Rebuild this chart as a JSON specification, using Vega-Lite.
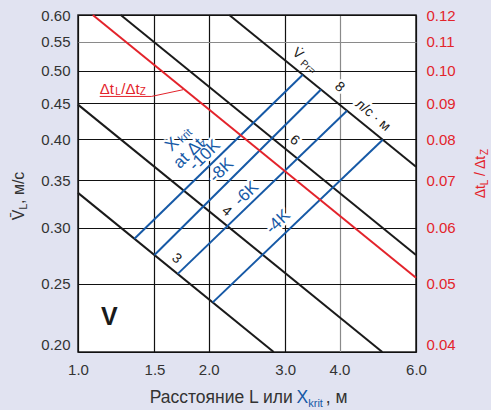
{
  "$schema": "https://vega.github.io/schema/vega-lite/v6.json",
  "width": 338,
  "height": 337,
  "autosize": {"type": "none"},
  "padding": {"left": 78, "top": 15, "right": 75, "bottom": 58},
  "background": "#e1e3f1",
  "config": {
    "view": {"fill": "white", "stroke": "#222222", "strokeWidth": 1.5},
    "text": {"font": "Liberation Sans"},
    "axis": {"labelFont": "Liberation Sans"}
  },
  "datasets": {
    "blackLines": [
      {"V": 3, "L": 1, "v": 0.336}, {"V": 3, "L": 2.822, "v": 0.2},
      {"V": 4, "L": 1, "v": 0.448}, {"V": 4, "L": 5.018, "v": 0.2},
      {"V": 6, "L": 1.2544, "v": 0.6}, {"V": 6, "L": 6, "v": 0.2743},
      {"V": 8, "L": 2.23, "v": 0.6}, {"V": 8, "L": 6, "v": 0.3658}
    ],
    "blueLines": [
      {"K": "-10K", "L": 1.3486, "v": 0.2893}, {"K": "-10K", "L": 3.2918, "v": 0.4939},
      {"K": "-8K", "L": 1.4995, "v": 0.2744}, {"K": "-8K", "L": 3.627, "v": 0.4705},
      {"K": "-6K", "L": 1.6966, "v": 0.258}, {"K": "-6K", "L": 4.163, "v": 0.4391},
      {"K": "-4K", "L": 2.0426, "v": 0.2351}, {"K": "-4K", "L": 5.031, "v": 0.3995}
    ],
    "redLine": [{"L": 1.0816, "r": 0.12}, {"L": 6, "r": 0.05095}],
    "leader": [{"L": 1.122, "v": 0.4601}, {"L": 1.476, "v": 0.4601}, {"L": 1.745, "v": 0.4703}],
    "blueLabels": [
      {"t": "X", "L": 1.646, "v": 0.3935},
      {"t": "at Δt", "L": 1.7986, "v": 0.3821},
      {"t": "-10K", "L": 1.958, "v": 0.3797},
      {"t": "-8K", "L": 2.139, "v": 0.3616},
      {"t": "-6K", "L": 2.442, "v": 0.3351},
      {"t": "-4K", "L": 2.888, "v": 0.3055}
    ],
    "blueSubs": [
      {"t": "krit", "L": 1.7675, "v": 0.4043},
      {"t": "z", "L": 1.9474, "v": 0.3948}
    ],
    "blackLabels": [
      {"t": "3", "L": 1.685, "v": 0.2712},
      {"t": "4", "L": 2.1966, "v": 0.3163},
      {"t": "6", "L": 3.15, "v": 0.3987},
      {"t": "8", "L": 3.999, "v": 0.4742},
      {"t": "V̇", "L": 3.2056, "v": 0.5288},
      {"t": "л/с · м", "L": 4.771, "v": 0.4325}
    ],
    "blackSmall": [{"t": "Pr=", "L": 3.38, "v": 0.5062}],
    "redMain": [
      {"t": "Δt", "L": 1.122, "v": 0.4641},
      {"t": "/Δt", "L": 1.2574, "v": 0.4641}
    ],
    "redSub": [
      {"t": "L", "L": 1.218, "v": 0.4616},
      {"t": "Z", "L": 1.387, "v": 0.4616}
    ],
    "bigV": [{"t": "V", "L": 1.1812, "v": 0.2242}],
    "bottomBlack": [
      {"t": "Расстояние L или", "L": 1.4626, "v": 0.1691},
      {"t": ", м", "L": 3.72, "v": 0.1691}
    ],
    "bottomBlue": [{"t": "X", "L": 3.1837, "v": 0.1691}],
    "bottomBlueSub": [{"t": "krit", "L": 3.389, "v": 0.1671}],
    "leftTitle": [
      {"t": "V̄", "L": 0.7498, "v": 0.3072},
      {"t": ", м/с", "L": 0.7498, "v": 0.324}
    ],
    "leftTitleSub": [{"t": "L", "L": 0.762, "v": 0.3181}],
    "rightTitle": [
      {"t": "Δt", "L": 8.64, "v": 0.3301},
      {"t": "/ Δt", "L": 8.64, "v": 0.3549}
    ],
    "rightTitleSub": [
      {"t": "L", "L": 8.778, "v": 0.3445},
      {"t": "Z", "L": 8.778, "v": 0.38}
    ]
  },
  "layer": [
    {
      "encoding": {
        "x": {
          "field": "L", "type": "quantitative",
          "scale": {"type": "log", "domain": [1, 6], "nice": false},
          "axis": {
            "values": [1, 1.5, 2, 3, 4, 6], "format": ".1f", "title": null,
            "domain": false, "ticks": false, "labelPadding": 10,
            "labelFontSize": 15, "labelColor": "#333333", "labelFlush": false,
            "grid": true, "gridWidth": 1.2,
            "gridColor": {"condition": {"test": "datum.value == 4", "value": "#8a8a8a"}, "value": "#111111"}
          }
        },
        "y": {
          "field": "v", "type": "quantitative",
          "scale": {"type": "log", "domain": [0.2, 0.6], "nice": false},
          "axis": {
            "values": [0.2, 0.25, 0.3, 0.35, 0.4, 0.45, 0.5, 0.55, 0.6], "format": ".2f", "title": null,
            "domain": false, "ticks": false, "labelPadding": 8,
            "labelFontSize": 15, "labelColor": "#333333", "labelFlush": false,
            "labelBaseline": {"condition": {"test": "datum.value <= 0.2", "value": "bottom"}, "value": "middle"},
            "grid": true, "gridWidth": 1.2,
            "gridColor": {"condition": {"test": "datum.value == 0.55", "value": "#8a8a8a"}, "value": "#111111"}
          }
        }
      },
      "layer": [
        {
          "data": {"name": "blueLabels"},
          "mark": {"type": "text", "fontSize": 17, "angle": 316, "fill": "white", "stroke": "white", "strokeWidth": 5, "strokeJoin": "round"},
          "encoding": {"text": {"field": "t"}}
        },
        {
          "data": {"name": "blackLabels"},
          "mark": {"type": "text", "fontSize": 14, "angle": 40, "fill": "white", "stroke": "white", "strokeWidth": 5, "strokeJoin": "round"},
          "encoding": {"text": {"field": "t"}}
        },
        {
          "data": {"name": "blackLines"},
          "mark": {"type": "line", "color": "#1a1a1a", "strokeWidth": 2},
          "encoding": {"detail": {"field": "V"}}
        },
        {
          "data": {"name": "blueLines"},
          "mark": {"type": "line", "color": "#1659a6", "strokeWidth": 2},
          "encoding": {"detail": {"field": "K"}}
        },
        {
          "data": {"name": "leader"},
          "mark": {"type": "line", "color": "#e3232b", "strokeWidth": 1},
          "encoding": {}
        },
        {
          "data": {"name": "blueLabels"},
          "mark": {"type": "text", "fontSize": 17, "angle": 316, "color": "#1659a6"},
          "encoding": {"text": {"field": "t"}}
        },
        {
          "data": {"name": "blueSubs"},
          "mark": {"type": "text", "fontSize": 11, "angle": 316, "color": "#1659a6"},
          "encoding": {"text": {"field": "t"}}
        },
        {
          "data": {"name": "blackLabels"},
          "mark": {"type": "text", "fontSize": 14, "angle": 40, "color": "#1a1a1a"},
          "encoding": {"text": {"field": "t"}}
        },
        {
          "data": {"name": "blackSmall"},
          "mark": {"type": "text", "fontSize": 10, "angle": 40, "color": "#1a1a1a"},
          "encoding": {"text": {"field": "t"}}
        },
        {
          "data": {"name": "redMain"},
          "mark": {"type": "text", "fontSize": 15, "align": "left", "baseline": "alphabetic", "color": "#e3232b"},
          "encoding": {"text": {"field": "t"}}
        },
        {
          "data": {"name": "redSub"},
          "mark": {"type": "text", "fontSize": 10, "align": "left", "baseline": "alphabetic", "color": "#e3232b"},
          "encoding": {"text": {"field": "t"}}
        },
        {
          "data": {"name": "bigV"},
          "mark": {"type": "text", "fontSize": 25, "fontWeight": "bold", "color": "#1a1a1a"},
          "encoding": {"text": {"field": "t"}}
        },
        {
          "data": {"name": "bottomBlack"},
          "mark": {"type": "text", "fontSize": 17.5, "align": "left", "baseline": "alphabetic", "color": "#333333"},
          "encoding": {"text": {"field": "t"}}
        },
        {
          "data": {"name": "bottomBlue"},
          "mark": {"type": "text", "fontSize": 17.5, "align": "left", "baseline": "alphabetic", "color": "#1659a6"},
          "encoding": {"text": {"field": "t"}}
        },
        {
          "data": {"name": "bottomBlueSub"},
          "mark": {"type": "text", "fontSize": 11, "align": "left", "baseline": "alphabetic", "color": "#1659a6"},
          "encoding": {"text": {"field": "t"}}
        },
        {
          "data": {"name": "leftTitle"},
          "mark": {"type": "text", "fontSize": 16, "angle": 270, "align": "left", "baseline": "alphabetic", "color": "#333333"},
          "encoding": {"text": {"field": "t"}}
        },
        {
          "data": {"name": "leftTitleSub"},
          "mark": {"type": "text", "fontSize": 11, "angle": 270, "align": "left", "baseline": "alphabetic", "color": "#333333"},
          "encoding": {"text": {"field": "t"}}
        },
        {
          "data": {"name": "rightTitle"},
          "mark": {"type": "text", "fontSize": 14, "angle": 270, "align": "left", "baseline": "alphabetic", "color": "#e3232b"},
          "encoding": {"text": {"field": "t"}}
        },
        {
          "data": {"name": "rightTitleSub"},
          "mark": {"type": "text", "fontSize": 10, "angle": 270, "align": "left", "baseline": "alphabetic", "color": "#e3232b"},
          "encoding": {"text": {"field": "t"}}
        }
      ]
    },
    {
      "data": {"name": "redLine"},
      "mark": {"type": "line", "color": "#e3232b", "strokeWidth": 2},
      "encoding": {
        "x": {
          "field": "L", "type": "quantitative",
          "scale": {"type": "log", "domain": [1, 6], "nice": false},
          "axis": {
            "values": [1, 1.5, 2, 3, 4, 6], "format": ".1f", "title": null,
            "domain": false, "ticks": false, "labelPadding": 10,
            "labelFontSize": 15, "labelColor": "#333333", "labelFlush": false,
            "grid": true, "gridWidth": 1.2,
            "gridColor": {"condition": {"test": "datum.value == 4", "value": "#8a8a8a"}, "value": "#111111"}
          }
        },
        "y": {
          "field": "r", "type": "quantitative",
          "scale": {"type": "log", "domain": [0.04, 0.12], "nice": false},
          "axis": {
            "orient": "right",
            "values": [0.04, 0.05, 0.06, 0.07, 0.08, 0.09, 0.1, 0.11, 0.12], "format": ".2f", "title": null,
            "domain": false, "ticks": false, "grid": false, "labelPadding": 10,
            "labelFontSize": 15, "labelColor": "#e3232b", "labelFlush": false,
            "labelBaseline": {"condition": {"test": "datum.value <= 0.04", "value": "bottom"}, "value": "middle"}
          }
        }
      }
    }
  ],
  "resolve": {"scale": {"y": "independent"}}
}
